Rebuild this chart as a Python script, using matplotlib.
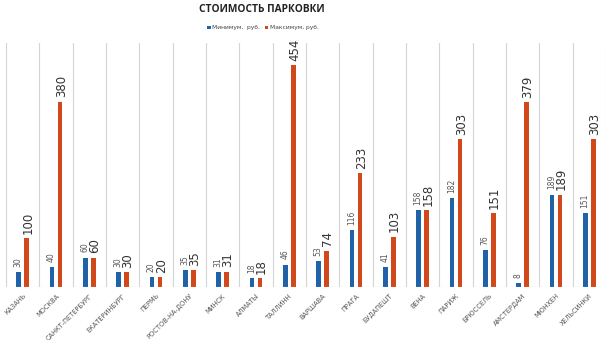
import numpy as np
import matplotlib.pyplot as plt

cities = ['КАЗАНЬ', 'МОСКВА', 'САНКТ-ПЕТЕРБУРГ', 'ЕКАТЕРИНБУРГ', 'ПЕРМЬ',
          'РОСТОВ-НА-ДОНУ', 'МИНСК', 'АЛМАТЫ', 'ТАЛЛИНН', 'ВАРШАВА', 'ПРАГА',
          'БУДАПЕШТ', 'ВЕНА', 'ПАРИЖ', 'БРЮССЕЛЬ', 'АМСТЕРДАМ', 'МЮНХЕН',
          'ХЕЛЬСИНКИ']
min_price = [30, 40, 60, 30, 20, 35, 31, 18, 46, 53, 116, 41, 158, 182, 76, 8, 189, 151]
max_price = [100, 380, 60, 30, 20, 35, 31, 18, 454, 74, 233, 103, 158, 303, 151, 379, 189, 303]

blue = '#1f62a8'
red = '#d1491b'

fig = plt.figure(figsize=(6.1, 3.4), dpi=100)
ax = fig.add_axes([6/610, 1 - 287/340, 600/610, (287 - 43)/340])

x = np.arange(len(cities))
w = 0.14
off = 0.12
ax.bar(x - off, min_price, w, color=blue, label='Минимум,  руб.')
ax.bar(x + off, max_price, w, color=red, label='Максимум, руб.')

for xi, v in zip(x, min_price):
    ax.text(xi - off - 0.02, v + 11, str(v), rotation=90, ha='center', va='bottom',
            fontsize=5.5, color='#555555')
for xi, v in zip(x, max_price):
    ax.text(xi + off + 0.04, v + 9, str(v), rotation=90, ha='center', va='bottom',
            fontsize=8.5, color='#333333')

ax.set_xlim(-0.5, len(cities) - 0.5)
ax.set_ylim(0, 500)

# vertical separators between cities
for b in np.arange(-0.5, len(cities), 1.0):
    ax.axvline(b, color='#d4d4d4', lw=0.8, zorder=0)
ax.axhline(0, color='#d4d4d4', lw=0.8)

for s in ax.spines.values():
    s.set_visible(False)
ax.set_yticks([])
ax.set_xticks(x)
ax.set_xticklabels(cities, rotation=45, ha='right', rotation_mode='anchor',
                   fontsize=4.8, color='#555555')
ax.tick_params(axis='x', length=0, pad=4)

fig.text(262/610, 1 - 10/340, 'СТОИМОСТЬ ПАРКОВКИ', ha='center', va='center',
         fontsize=7.3, fontweight='bold', color='#222222', family='Open Sans')
ax.legend(loc='center', bbox_to_anchor=((263 - 6)/600, 1 + 15/244),
          ncol=2, frameon=False, fontsize=4.3, handlelength=0.55,
          handleheight=0.55, columnspacing=0.9, handletextpad=0.2,
          labelcolor='#444444')

fig.savefig('out.png', dpi=100)
